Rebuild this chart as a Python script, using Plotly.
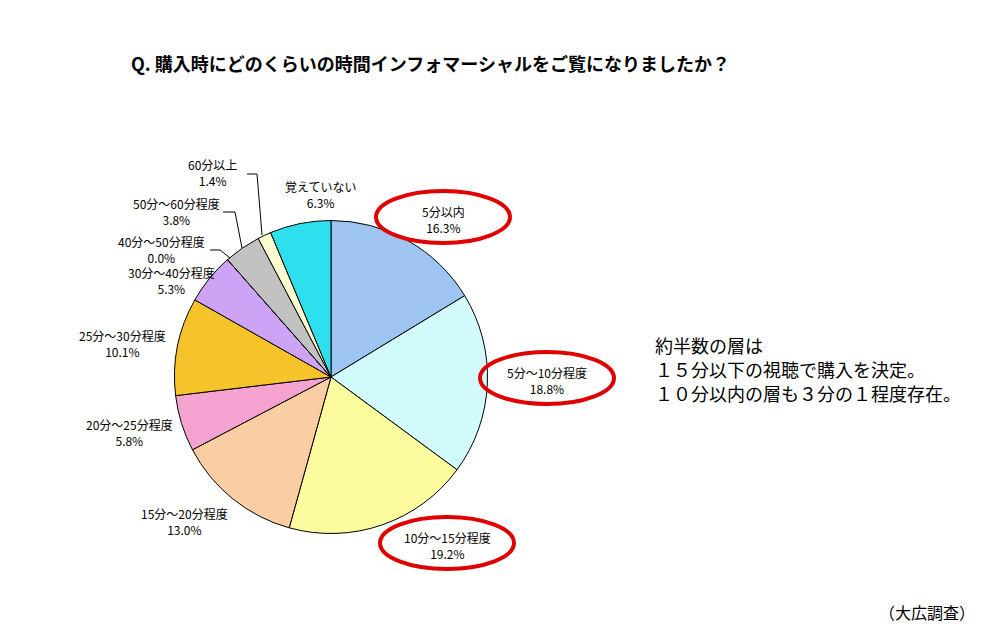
import plotly.graph_objects as go

W, H = 991, 643

categories = ["5分以内", "5分～10分程度", "10分～15分程度", "15分～20分程度", "20分～25分程度",
              "25分～30分程度", "30分～40分程度", "40分～50分程度", "50分～60分程度", "60分以上", "覚えていない"]
values = [16.3, 18.8, 19.2, 13.0, 5.8, 10.1, 5.3, 0.0, 3.8, 1.4, 6.3]
colors = ["#9EC4F2", "#D2FCFC", "#FCFC9E", "#FBCDA2", "#F4A2CF", "#F6C32A",
          "#CDA3F6", "#8080FF", "#C2C2C2", "#FCFCD0", "#2EE0EE"]

title_text = "Q. 購入時にどのくらいの時間インフォマーシャルをご覧になりましたか？"
note_lines = ["約半数の層は", "１５分以下の視聴で購入を決定。", "１０分以内の層も３分の１程度存在。"]
source_text = "（大広調査）"
highlighted = ["5分以内", "5分～10分程度", "10分～15分程度"]

# layout: label centre positions in pixels
label_pos = {
    "5分以内": (443, 219), "5分～10分程度": (547, 380), "10分～15分程度": (447, 545),
    "15分～20分程度": (184, 521), "20分～25分程度": (129, 432), "25分～30分程度": (122, 343),
    "30分～40分程度": (171, 280), "40分～50分程度": (161, 249), "50分～60分程度": (176, 211),
    "60分以上": (212, 172), "覚えていない": (320, 194),
}
leaders = {
    "40分～50分程度": [(210, 250), (220, 250), (230, 258)],
    "50分～60分程度": [(223, 212), (235, 212), (242, 248)],
    "60分以上": [(247, 174), (257, 174), (262, 235)],
}

def px(x):
    return x / W

def py(y):
    return 1 - y / H

cx, cy, r = 331, 377, 156.5

fig = go.Figure(go.Pie(
    labels=categories, values=values, sort=False, direction="clockwise", rotation=0,
    marker=dict(colors=colors, line=dict(color="#000000", width=1)),
    textinfo="none", hoverinfo="label+value", showlegend=False,
    domain=dict(x=[px(cx - r), px(cx + r)], y=[py(cy + r), py(cy - r)]),
))

font_jp = "Noto Sans CJK JP"
ann = []
for c, v in zip(categories, values):
    x, y = label_pos[c]
    ann.append(dict(x=px(x), y=py(y), xref="paper", yref="paper", showarrow=False,
                    text=f"{c}<br>{v:.1f}%", align="center",
                    font=dict(family=font_jp, size=12, color="#000"),
                    xanchor="center", yanchor="middle"))

ann.append(dict(x=px(430), y=py(63), xref="paper", yref="paper", showarrow=False,
                text=f"<b>{title_text}</b>", font=dict(family=font_jp, size=18, color="#000"),
                xanchor="center", yanchor="middle"))
for i, line in enumerate(note_lines):
    ann.append(dict(x=px(653), y=py(345 + 24 * i), xref="paper", yref="paper", showarrow=False,
                    text=line, align="left",
                    font=dict(family=font_jp, size=18, color="#000"), xanchor="left", yanchor="middle"))
ann.append(dict(x=px(977), y=py(612), xref="paper", yref="paper", showarrow=False,
                text=source_text, font=dict(family=font_jp, size=16, color="#000"),
                xanchor="right", yanchor="middle"))

shapes = []
for c in highlighted:
    x, y = label_pos[c]
    y = y - 2
    shapes.append(dict(type="circle", xref="paper", yref="paper",
                       x0=px(x - 67), x1=px(x + 67), y0=py(y + 26), y1=py(y - 26),
                       line=dict(color="#E00000", width=4)))
for c, pts in leaders.items():
    path = "M " + " L ".join(f"{px(a)},{py(b)}" for a, b in pts)
    shapes.append(dict(type="path", xref="paper", yref="paper", path=path,
                       line=dict(color="#000", width=1)))

fig.update_layout(width=W, height=H, margin=dict(l=0, r=0, t=0, b=0),
                  paper_bgcolor="white", plot_bgcolor="white",
                  annotations=ann, shapes=shapes)
fig.write_html("out.html")
